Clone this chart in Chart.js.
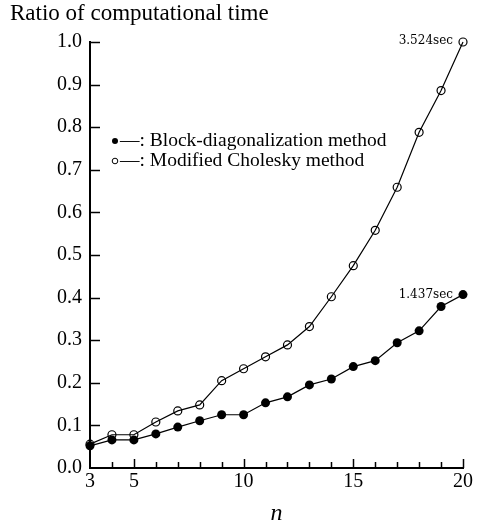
<!DOCTYPE html>
<html>
<head>
<meta charset="utf-8">
<script src="https://cdn.jsdelivr.net/npm/chart.js@4/dist/chart.umd.min.js"></script>
<style>
  html, body { margin: 0; padding: 0; background: #fff; }
  #chart { display: block; }
</style>
</head>
<body>
<canvas id="chart" width="481" height="528"></canvas>
<script>
const sizes = [3, 4, 5, 6, 7, 8, 9, 10, 11, 12, 13, 14, 15, 16, 17, 18, 19, 20];
const blockDiag = [0.052, 0.066, 0.066, 0.080, 0.096, 0.111, 0.125, 0.125, 0.153,
                   0.167, 0.195, 0.209, 0.238, 0.252, 0.294, 0.322, 0.379, 0.407];
const cholesky = [0.056, 0.078, 0.078, 0.108, 0.134, 0.148, 0.205, 0.233, 0.261,
                  0.289, 0.332, 0.402, 0.475, 0.558, 0.659, 0.788, 0.886, 1.0];
const xLabels = [3, 5, 10, 15, 20];
const yTicks = [0, 0.1, 0.2, 0.3, 0.4, 0.5, 0.6, 0.7, 0.8, 0.9, 1.0];
const seriesNames = ["Block-diagonalization method", "Modified Cholesky method"];
const endTimes = ["1.437sec", "3.524sec"];
const yTitle = "Ratio of computational time";

const serif = "'Liberation Serif', 'DejaVu Serif', serif";

// inside tick marks, legend text, end labels and the top title
const decor = {
  id: "decor",
  afterDraw(chart) {
    const ctx = chart.ctx;
    const xs = chart.scales.x;
    const ys = chart.scales.y;
    const area = chart.chartArea;
    ctx.save();
    ctx.strokeStyle = "#000";
    ctx.fillStyle = "#000";
    ctx.lineWidth = 1.5;

    // y ticks point right into the plot
    for (let v of yTicks) {
      if (v == 0) continue;
      let y = Math.round(ys.getPixelForValue(v)) + 0.5;
      ctx.beginPath();
      ctx.moveTo(area.left, y);
      ctx.lineTo(area.left + 10, y);
      ctx.stroke();
    }
    // x ticks point up, longer on labelled ones
    for (let n of sizes) {
      if (n == 3) continue;
      let x = Math.round(xs.getPixelForValue(n)) + 0.5;
      let len = xLabels.includes(n) ? 9 : 6;
      ctx.beginPath();
      ctx.moveTo(x, area.bottom);
      ctx.lineTo(x, area.bottom - len);
      ctx.stroke();
    }

    // title
    ctx.font = "23px " + serif;
    ctx.textAlign = "left";
    ctx.textBaseline = "alphabetic";
    ctx.fillText(yTitle, 10, 20);

    // legend
    ctx.font = "19.5px " + serif;
    ctx.beginPath();
    ctx.arc(115, 141, 3, 0, Math.PI * 2);
    ctx.fill();
    ctx.fillText("\u2014: " + seriesNames[0], 120, 146);
    ctx.lineWidth = 1;
    ctx.beginPath();
    ctx.arc(115, 161, 2.8, 0, Math.PI * 2);
    ctx.stroke();
    ctx.fillText("\u2014: " + seriesNames[1], 120, 166);

    // times at n = 20
    ctx.font = "12px 'DejaVu Serif', serif";
    ctx.textAlign = "right";
    ctx.textBaseline = "middle";
    let xEnd = xs.getPixelForValue(sizes[sizes.length - 1]) - 10;
    ctx.fillText(endTimes[0], xEnd, ys.getPixelForValue(blockDiag[blockDiag.length - 1]));
    ctx.fillText(endTimes[1], xEnd, ys.getPixelForValue(cholesky[cholesky.length - 1]) - 1);
    ctx.restore();
  }
};

new Chart(document.getElementById("chart"), {
  type: "line",
  data: {
    datasets: [
      {
        label: seriesNames[0],
        data: sizes.map((n, i) => ({ x: n, y: blockDiag[i] })),
        borderColor: "#000",
        borderWidth: 1.2,
        backgroundColor: "#000",
        pointBackgroundColor: "#000",
        pointBorderColor: "#000",
        pointRadius: 4.5,
        pointBorderWidth: 0,
        tension: 0,
        clip: false,
      },
      {
        label: seriesNames[1],
        data: sizes.map((n, i) => ({ x: n, y: cholesky[i] })),
        borderColor: "#000",
        borderWidth: 1.2,
        backgroundColor: "transparent",
        pointBackgroundColor: "rgba(0,0,0,0)",
        pointBorderColor: "#000",
        pointRadius: 4,
        pointBorderWidth: 1.2,
        tension: 0,
        clip: false,
      },
    ],
  },
  options: {
    responsive: false,
    animation: false,
    layout: { padding: { top: 42, right: 18, left: 0, bottom: 0 } },
    plugins: {
      legend: { display: false },
      tooltip: { enabled: false },
    },
    scales: {
      x: {
        type: "linear",
        min: 3,
        max: 20,
        afterBuildTicks: (s) => { s.ticks = sizes.map((v) => ({ value: v })); },
        afterFit: (s) => { s.height = 60; },
        grid: { display: false, drawTicks: false },
        border: { display: true, color: "#000", width: 2 },
        ticks: {
          color: "#000",
          font: { family: serif, size: 20 },
          padding: 2,
          maxRotation: 0,
          autoSkip: false,
          callback: (v) => (xLabels.includes(v) ? String(v) : ""),
        },
        title: {
          display: true,
          text: "n",
          color: "#000",
          font: { family: serif, size: 24, style: "italic" },
          padding: 0,
        },
      },
      y: {
        min: 0,
        max: 1,
        afterBuildTicks: (s) => { s.ticks = yTicks.map((v) => ({ value: v })); },
        afterFit: (s) => { s.width = 90; },
        grid: { display: false, drawTicks: false },
        border: { display: true, color: "#000", width: 2 },
        ticks: {
          color: "#000",
          font: { family: serif, size: 20 },
          padding: 8,
          callback: (v) => v.toFixed(1),
        },
      },
    },
  },
  plugins: [decor],
});
</script>
</body>
</html>
